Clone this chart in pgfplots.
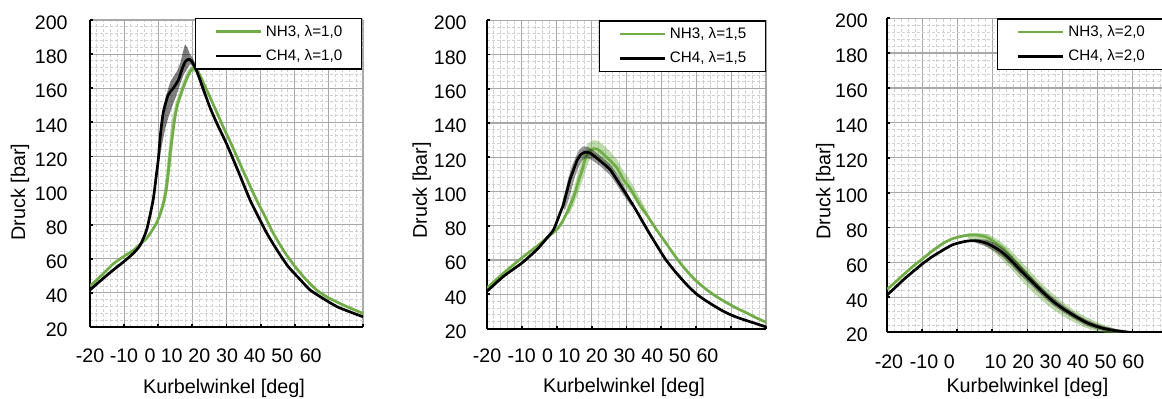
\documentclass[border=0pt]{standalone}
\usepackage{fontspec}
\setmainfont{Liberation Sans}
\usepackage{pgfplots}
\pgfplotsset{compat=1.18}
\definecolor{nhgreen}{RGB}{112,173,71}
\newcommand{\tickfont}{\fontsize{9.8pt}{11pt}\selectfont}
\newcommand{\labfont}{\fontsize{9.9pt}{11pt}\selectfont}
\newcommand{\legfont}{\fontsize{7.6pt}{9pt}\selectfont}
\pgfplotsset{
  kw/.style={
    scale only axis,
    anchor=south west,
    xmin=-20, xmax=60, ymin=20, ymax=200,
    axis lines*=left,
    axis line style={black, line width=1pt},
    xtick={-20,-10,...,60},
    xticklabels={,,,,,,,,,},
    ytick={20,40,...,200},
    minor x tick num=4, minor y tick num=4,
    grid=both,
    major grid style={color=black!34, line width=0.6pt},
    minor grid style={color=black!18, line width=0.5pt, dash pattern=on 1.6pt off 0.9pt},
    major tick length=1.4pt, minor tick length=0pt,
    tick style={black, line width=0.9pt},
    tick align=inside,
    /pgf/number format/assume math mode=true,
    ticklabel style={font=\tickfont, inner sep=0pt},
    yticklabel style={anchor=east},
    label style={font=\labfont},
    xlabel={Kurbelwinkel [deg]},
    ylabel={Druck [bar]},
    xlabel style={anchor=center},
    ylabel style={anchor=center},
    extra x tick labels={-20,-10,0,10,20,30,40,50,60},
    legend cell align=left,
    legend style={font=\legfont, draw=black, fill=white, line width=0.65pt,
      anchor=north east, inner xsep=9.5pt, inner ysep=2.7pt,
      column sep=2pt, row sep=4.6pt,
      nodes={inner sep=0pt, text height=6pt, text depth=1.6pt}},
    legend image code/.code={\draw[#1] (0pt,0pt) -- (22.5pt,0pt);},
  },
}
\begin{document}
\begin{tikzpicture}
% ---------------- Panel 1 : lambda = 1,0
\begin{axis}[kw,
  at={(45pt,35.5pt)}, width=136.5pt, height=153.5pt,
  yticklabel style={xshift=-11pt, yshift=-1.5pt},
  extra x ticks={-20,-10.04,-2.42,3.94,12.03,20.15,28.26,36.35,44.67},
  extra x tick style={grid=none, major tick length=0pt, xticklabel style={anchor=center, yshift=-14.5pt}},
  xlabel style={at={(axis description cs:0.491,-0.199)}},
  ylabel style={at={(axis description cs:-0.256,0.44)}},
  legend style={at={(rel axis cs:1,1)}, xshift=-0.5pt, yshift=1pt},
]
\addplot[fill=nhgreen, fill opacity=0.45, draw=none, forget plot] coordinates {
(-1,80) (0,85) (1,92) (1.7,100) (2.3,110) (2.9,122) (3.5,134) (4.2,144) (5,151) (6,157) (7.2,164) (8.5,170) (9.8,173.5) (11,173) (12.5,168) (13.5,164)
(13.5,161) (12.2,166) (11,169.5) (9.8,169.5) (8.5,164.5) (7,157.5) (6,152) (5.2,144) (4.6,133) (4,121) (3.4,110) (2.7,100) (2,92) (1,86) (0,82) (-1,78)};
\addplot[color=nhgreen, line width=1.35pt, smooth, tension=0.4] coordinates {
(-20,44) (-16.5,50.5) (-13.2,57) (-10,61.5) (-7.3,65) (-5.3,68.5) (-3.4,72) (-2,76) (-0.5,81) (0.5,86) (1.5,92.5) (2.3,100) (2.9,110) (3.5,122) (4.2,133) (4.9,143) (5.6,150) (6.4,155) (7.8,163) (9.3,169.7) (10.3,171.7) (11.7,169.5) (13.5,162) (15,155.5) (16.9,147) (19,137.5) (21.3,127.7) (25,111) (28.8,94.5) (31,86) (33.7,75) (37,64) (40.1,55.4) (43,48.5) (46.4,41.7) (50,37) (55.2,32) (60,28)};
\addlegendentry{NH3, λ=1,0}
\addplot[fill=black, fill opacity=0.5, draw=none, forget plot] coordinates {
(0,120) (0.7,136) (1.5,149) (2.5,157) (3.4,163) (4.5,167) (5.5,170) (6.5,175) (7.2,181) (7.8,185.5) (8.5,184) (9.3,180) (10.3,177) (11.3,172) (12.5,164) (13.5,158)
(13.5,155) (12.5,161) (11.3,168) (10.3,173) (9.3,174) (8.5,171.5) (7.5,168) (6.8,164.5) (6,160) (5.2,155) (4.2,150) (3,143) (2,136) (1.2,128) (0.5,120) (0,116)};
\addplot[color=black, line width=1.35pt, smooth, tension=0.4] coordinates {
(-20,41.7) (-17,47) (-13.2,53.4) (-10,58.5) (-7.3,63.2) (-5.3,68) (-3.4,77) (-1.5,94.5) (-0.5,110) (0,118) (0.7,134) (1.5,146) (2.9,156) (4.4,160) (5.9,164.8) (6.9,170.7) (7.8,175.2) (8.8,177) (9.8,175.8) (11.3,170) (13.2,159.5) (15.2,148.5) (17.5,138) (20,127.5) (23.5,111) (26.9,94.5) (29.5,84) (31.8,75) (35,64.5) (38.1,55.4) (41.5,48) (44.5,41.7) (48.5,36.5) (52.3,32) (56,29) (60,26)};
\addlegendentry{CH4, λ=1,0}
\end{axis}
% ---------------- Panel 2 : lambda = 1,5
\begin{axis}[kw,
  at={(243.5pt,34.7pt)}, width=139.5pt, height=154.2pt,
  yticklabel style={xshift=-10pt, yshift=-1.5pt},
  extra x ticks={-20,-10.05,-2.6,3.6,11.5,19.4,27.4,35.3,43.2},
  extra x tick style={grid=none, major tick length=0pt, xticklabel style={anchor=center, yshift=-13.5pt}},
  xlabel style={at={(axis description cs:0.491,-0.191)}},
  ylabel style={at={(axis description cs:-0.234,0.448)}},
  legend style={at={(rel axis cs:1,1)}},
]
\addplot[fill=nhgreen, fill opacity=0.45, draw=none, forget plot] coordinates {
(2.5,88) (3.6,94) (4.8,101) (5.7,108) (6.7,115) (7.7,122) (8.8,127.5) (10.3,130) (12,129.5) (14.3,125.5) (17.2,119) (19.1,112) (21,106.5) (23.9,96) (25.8,89)
(26.3,84) (24.2,89) (21.5,98) (19.4,103) (17.4,109.5) (14.5,115.5) (12.2,119) (10.7,120.5) (9.7,119.5) (8.8,115.5) (7.8,109) (6.8,103) (5.8,97) (4.6,91) (3.4,86.5)};
\addplot[color=nhgreen, line width=1.35pt, smooth, tension=0.4] coordinates {
(-20,43.7) (-15.2,52.5) (-10,61.3) (-5.7,68) (-2.8,73) (0,77.8) (1.5,82) (2.9,87.5) (4.1,93) (5.3,99.5) (6.2,106) (7.2,112) (8.2,119) (9.2,123.3) (10.5,125) (12,124.3) (14.3,120) (17.2,114) (19.1,107) (21,102) (23.9,92) (25.8,86.5) (28,79.5) (30.6,72) (33,65) (35.4,58.3) (37.8,52.5) (40.1,47.6) (42.5,43.5) (44.9,39.9) (47.3,36.8) (49.7,34) (52,31.5) (54.5,29.1) (57,26.5) (60,23.7)};
\addlegendentry{NH3, λ=1,5}
\addplot[fill=black, fill opacity=0.4, draw=none, forget plot] coordinates {
(1.5,93) (2.5,101) (3.4,108.5) (4.3,114.5) (5.4,120) (6.5,124.5) (7.6,126.4) (9,126) (10.5,124) (12.4,121) (15.3,116) (17.2,110.5) (19.1,104) (21,96)
(21.5,91) (19.1,98) (17.2,104) (15.3,109.5) (12.4,115) (11,117) (9.6,119) (8.3,119.5) (7.2,118) (6.2,114) (5.2,108.5) (4.2,101) (3.2,94) (2.3,89)};
\addplot[color=black, line width=1.35pt, smooth, tension=0.4] coordinates {
(-20,41.8) (-15.2,50.6) (-10,58.3) (-5.7,66.1) (-2.8,72.9) (-0.9,77.8) (0.9,87.1) (1.9,92.4) (2.9,100) (3.8,107) (4.7,112) (5.8,118) (7,121.8) (8.3,123) (9.6,122.4) (11,120.3) (12.4,118) (15.3,112.8) (17.2,107) (19.1,101) (21.9,92) (23.9,85) (26.3,76.5) (28.7,68.5) (31,61) (33.5,54.4) (36,48.5) (38.2,43.7) (40.5,39.5) (43,36) (45.5,32.8) (47.8,30.1) (50.5,27.5) (53.5,25.3) (57,23) (60,21)};
\addlegendentry{CH4, λ=1,5}
\end{axis}
% ---------------- Panel 3 : lambda = 2,0
\begin{axis}[kw,
  at={(443.6pt,32.9pt)}, width=140.2pt, height=157pt,
  yticklabel style={xshift=-9.5pt, yshift=-1.5pt},
  extra x ticks={-19.5,-9.5,-2.3,10.9,18.8,26.6,34.4,42.3,50.2},
  extra x tick style={grid=none, major tick length=0pt, xticklabel style={anchor=center, yshift=-15pt}},
  xlabel style={at={(axis description cs:0.5,-0.177)}},
  ylabel style={at={(axis description cs:-0.221,0.45)}},
  legend style={at={(rel axis cs:1,1)}, xshift=-1.5pt},
]
\addplot[fill=nhgreen, fill opacity=0.45, draw=none, forget plot] coordinates {
(3,77) (6,77) (9,76) (12,72.5) (15,67.5) (18,61) (21,54.5) (24,48) (27,42.5) (30,37.5) (33,33) (36,29.5) (39,26.5) (42,24) (45,22) (48,20.5) (51,19.5)
(51,17) (48,17.5) (45,18.5) (42,19.8) (39,21) (36,23) (33,26) (30,29.5) (27,33.5) (24,38.5) (21,44) (18,50.5) (15,57) (12,63) (9,68.5) (6,72) (3,73.5)};
\addplot[color=nhgreen, line width=1.35pt, smooth, tension=0.4] coordinates {
(-20,44.6) (-17.5,49) (-15.4,52.9) (-12.5,58) (-9.7,62.4) (-7,66.8) (-4,71) (-1.5,73.5) (0.8,74.8) (2.7,75.5) (4.6,75.8) (6.5,75.4) (8.4,74.5) (10.8,71.5) (13.1,68.2) (15.5,63) (17.9,57.6) (20.3,52.3) (22.7,47.1) (25,42.2) (27.4,37.6) (29.8,34) (32.2,30.9) (34.6,28) (37,25.6) (39.4,23.5) (41.7,22) (44.5,20.8) (47.4,20) (50,19.4)};
\addlegendentry{NH3, λ=2,0}
\addplot[fill=black, fill opacity=0.4, draw=none, forget plot] coordinates {
(5,73.5) (8.4,73) (10.8,71) (13.1,68) (15.5,63.5) (17.9,58.5) (20.3,53.5) (22.7,48.5) (25,44) (27.4,39.8) (29.8,36) (32.2,32.7) (34.6,29.6) (37,27) (39.4,25) (41.7,23.5) (45,22) (48,21)
(48,19) (45,19.8) (41.7,20.8) (39.4,21.9) (37,23.6) (34.6,26.2) (32.2,29) (29.8,32) (27.4,35.4) (25,39.5) (22.7,43.8) (20.3,48.5) (17.9,53) (15.5,58.2) (13.1,62.8) (10.8,66.2) (8.4,69) (5,71.5)};
\addplot[color=black, line width=1.35pt, smooth, tension=0.4] coordinates {
(-20,41.4) (-17.5,46) (-15.4,50) (-12.5,55) (-9.7,59.6) (-7,63.5) (-4,67.2) (-1.5,70) (0.8,71.4) (2.7,72.2) (4.6,72.5) (6.5,72) (8.4,71) (10.8,68.5) (13.1,65.3) (15.5,60.8) (17.9,55.7) (20.3,51) (22.7,46.2) (25,41.8) (27.4,37.6) (29.8,34) (32.2,30.9) (34.6,28) (37,25.4) (39.4,23.6) (41.7,22.2) (45,20.9) (48.9,20) (52,19.4)};
\addlegendentry{CH4, λ=2,0}
\end{axis}
\pgfresetboundingbox
\path[use as bounding box] (0pt,0pt) rectangle (581pt,199pt);
\end{tikzpicture}
\end{document}
